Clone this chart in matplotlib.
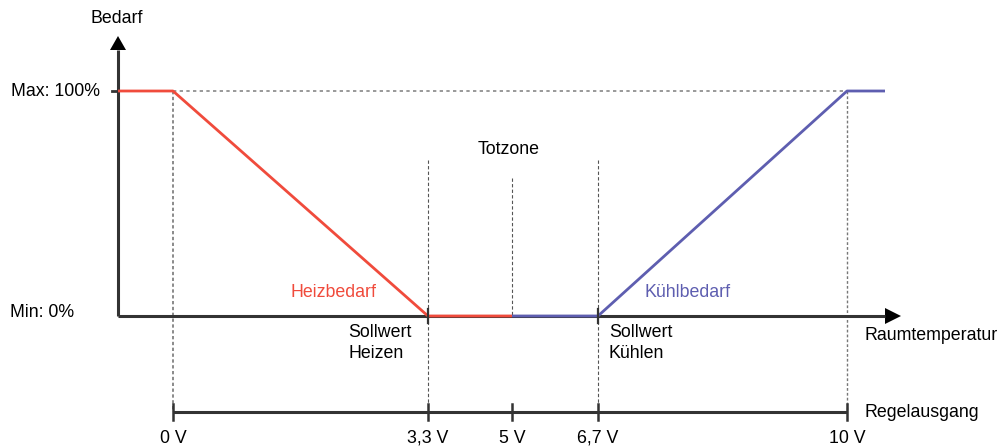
import numpy as np
import matplotlib.pyplot as plt

plt.rcParams['font.family'] = ['Liberation Sans', 'DejaVu Sans']

# horizontal positions of the control-output marks (drawing units) and their labels
tick_x = [173, 428, 512, 598, 847]
tick_labels = ['0 V', '3,3 V', '5 V', '6,7 V', '10 V']

# demand curves in percent
heat_x = [118, 173, 428, 512]
heat_y = [100, 100, 0, 0]
cool_x = [512, 598, 847, 885]
cool_y = [0, 0, 100, 100]

red = '#f04b3c'
blue = '#5e5eb0'
dark = '#333333'

fig = plt.figure(figsize=(9.99, 4.48), dpi=100)
ax = fig.add_axes([0, 0, 1, 1])
# 2.25 px per percent, 0 % at 316 px from top
ax.set_xlim(0, 999)
ax.set_ylim(-132 / 2.25, 100 + 91 / 2.25)
ax.axis('off')

def py(p):
    # pixel row -> percent
    return (316 - p) / 2.25

y_reg = py(412)

# dotted guide lines
ax.plot([173, 847], [100, 100], color='#888888', ls=(0, (2, 2)), lw=1.2)
ax.plot([173, 173], [100, y_reg], color='#777777', ls=(0, (2, 1.5)), lw=1.2)
ax.plot([847, 847], [100, y_reg], color='#777777', ls=(0, (2, 1.5)), lw=1.0)
for x, top in [(428, 160), (598, 160)]:
    ax.plot([x, x], [py(top), y_reg], color='#555555', ls=(0, (3, 2)), lw=0.8)
ax.plot([512, 512], [py(178), 0], color='#555555', ls=(0, (3, 2)), lw=0.8)

# demand curves
ax.plot(heat_x, heat_y, color=red, lw=2, solid_capstyle='butt', zorder=3)
ax.plot(cool_x, cool_y, color=blue, lw=2, solid_capstyle='butt', zorder=3)

# axes with arrows
ax.plot([118, 118], [0, py(50)], color=dark, lw=2.2, solid_capstyle='butt', zorder=2)
ax.plot([118, 885], [0, 0], color=dark, lw=2.2, solid_capstyle='butt', zorder=2)
ax.fill([110, 126, 118], [py(50), py(50), py(36)], color='black', lw=0)
ax.fill([885, 885, 901], [py(308), py(324), 0], color='black', lw=0)
ax.plot([112, 118], [100, 100], color=dark, lw=2)
for x in [428, 598]:
    ax.plot([x, x], [py(309), py(323)], color=dark, lw=1.6, zorder=4)

fs = 12.8

# control output axis
ax.plot([tick_x[0], tick_x[-1]], [y_reg, y_reg], color=dark, lw=2.2, solid_capstyle='butt')
for x, lab in zip(tick_x, tick_labels):
    ax.plot([x, x], [py(404), py(420)], color=dark, lw=1.8)
    ax.text(x, py(438), lab, ha='center', va='center', fontsize=fs)

ax.text(117, py(18), 'Bedarf', ha='center', va='center', fontsize=fs)
ax.text(100, 100, 'Max: 100%', ha='right', va='center', fontsize=fs)
ax.text(74, py(312), 'Min: 0%', ha='right', va='center', fontsize=fs)
ax.text(509, py(149), 'Totzone', ha='center', va='center', fontsize=fs)
ax.text(333, py(292), 'Heizbedarf', ha='center', va='center', fontsize=fs, color=red)
ax.text(688, py(292), 'Kühlbedarf', ha='center', va='center', fontsize=fs, color=blue)
ax.text(348, py(343), 'Sollwert\nHeizen', ha='left', va='center', fontsize=fs, linespacing=1.3)
ax.text(609, py(343), 'Sollwert\nKühlen', ha='left', va='center', fontsize=fs, linespacing=1.3)
ax.text(865, py(335), 'Raumtemperatur', ha='left', va='center', fontsize=fs)
ax.text(865, py(412), 'Regelausgang', ha='left', va='center', fontsize=fs)

fig.savefig('out.png', dpi=100)
